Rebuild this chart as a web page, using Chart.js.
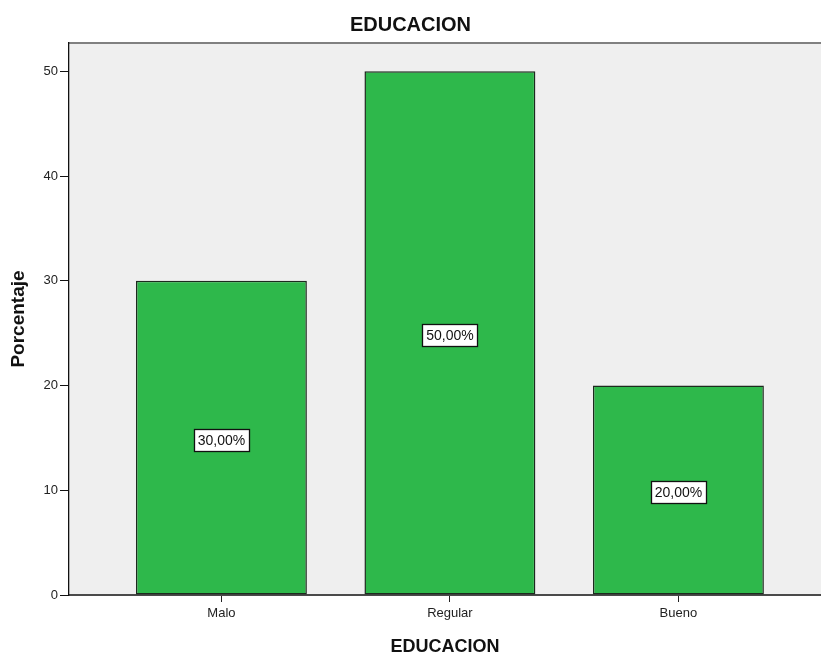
<!DOCTYPE html>
<html>
<head>
<meta charset="utf-8">
<script src="https://cdn.jsdelivr.net/npm/chart.js@4.4.0/dist/chart.umd.min.js"></script>
<style>
  html, body { margin: 0; padding: 0; background: #fff; }
  #wrap { width: 821px; height: 656px; }
</style>
</head>
<body>
<div id="wrap"><canvas id="eduChart" width="821" height="656"></canvas></div>
<script>
// data
const categories = ['Malo', 'Regular', 'Bueno'];
const percentages = [30, 50, 20];
const yTicks = [0, 10, 20, 30, 40, 50];

const FONT = "'Liberation Sans', Arial, sans-serif";

// grey plot background + top frame line
const plotBackground = {
  id: 'plotBackground',
  beforeDraw(chart) {
    const { ctx, chartArea: a } = chart;
    ctx.save();
    ctx.fillStyle = '#efefef';
    ctx.fillRect(a.left, a.top, a.right - a.left, a.bottom - a.top);
    ctx.strokeStyle = '#808080';
    ctx.lineWidth = 2;
    ctx.beginPath();
    ctx.moveTo(a.left, a.top);
    ctx.lineTo(a.right, a.top);
    ctx.stroke();
    ctx.restore();
  }
};

// boxed "30,00%" labels at half bar height
const barLabels = {
  id: 'barLabels',
  afterDatasetsDraw(chart) {
    const { ctx } = chart;
    const yScale = chart.scales.y;
    const meta = chart.getDatasetMeta(0);
    ctx.save();
    ctx.font = '14px ' + FONT;
    ctx.textAlign = 'center';
    ctx.textBaseline = 'middle';
    meta.data.forEach((bar, i) => {
      const v = percentages[i];
      const text = v.toFixed(2).replace('.', ',') + '%';
      const y = yScale.getPixelForValue(v / 2) + 2;
      const w = Math.round(ctx.measureText(text).width + 8);
      const h = 22;
      const x0 = Math.round(bar.x - w / 2) + 0.5;
      const y0 = Math.round(y - h / 2) + 0.5;
      ctx.fillStyle = '#ffffff';
      ctx.fillRect(x0, y0, w, h);
      ctx.strokeStyle = '#111';
      ctx.lineWidth = 1.3;
      ctx.strokeRect(x0, y0, w, h);
      ctx.fillStyle = '#111';
      ctx.fillText(text, bar.x, y + 1);
    });
    ctx.restore();
  }
};

const ctx = document.getElementById('eduChart').getContext('2d');

const eduChart = new Chart(ctx, {
  type: 'bar',
  data: {
    datasets: [{
      label: 'EDUCACION',
      data: percentages.map((v, i) => ({ x: i, y: v })),
      backgroundColor: '#2eb84b',
      borderColor: '#1c2a1e',
      borderWidth: 1.5,
      borderSkipped: false,
      barPercentage: 1,
      categoryPercentage: 0.748
    }]
  },
  options: {
    responsive: false,
    animation: false,
    layout: { padding: 0 },
    plugins: {
      legend: { display: false },
      tooltip: { enabled: false },
      title: {
        display: true,
        text: 'EDUCACION',
        color: '#111',
        font: { family: FONT, size: 20, weight: 'bold', lineHeight: 1.2 },
        padding: { top: 13, bottom: 6 }
      }
    },
    scales: {
      x: {
        type: 'linear',
        offset: false,
        min: -0.667,
        max: 2.624,
        afterBuildTicks: (scale) => {
          scale.ticks = categories.map((c, i) => ({ value: i }));
        },
        afterFit: (scale) => { scale.height = 61; },
        ticks: {
          autoSkip: false,
          maxRotation: 0,
          color: '#222',
          padding: 4,
          font: { family: FONT, size: 13 },
          callback: (v) => categories[Math.round(v)]
        },
        grid: { offset: false, drawOnChartArea: false, drawTicks: true, tickLength: 7, color: '#222' },
        border: { display: true, color: '#4a4a4a', width: 2 },
        title: {
          display: true,
          text: 'EDUCACION',
          color: '#111',
          font: { family: FONT, size: 18, weight: 'bold', lineHeight: 1 },
          padding: { top: 0, bottom: 0 }
        }
      },
      y: {
        min: 0,
        max: 52.7,
        afterBuildTicks: (scale) => {
          scale.ticks = yTicks.map(v => ({ value: v }));
        },
        afterFit: (scale) => { scale.width = 69; },
        ticks: {
          includeBounds: false,
          color: '#222',
          padding: 2,
          font: { family: FONT, size: 13 }
        },
        grid: { drawOnChartArea: false, drawTicks: true, tickLength: 9, color: '#111' },
        border: { display: true, color: '#111', width: 1.3 },
        title: {
          display: true,
          text: 'Porcentaje',
          color: '#111',
          font: { family: FONT, size: 19, weight: 'bold', lineHeight: 1.2 },
          padding: { top: 7, bottom: 0 }
        }
      }
    }
  },
  plugins: [plotBackground, barLabels]
});
</script>
</body>
</html>
